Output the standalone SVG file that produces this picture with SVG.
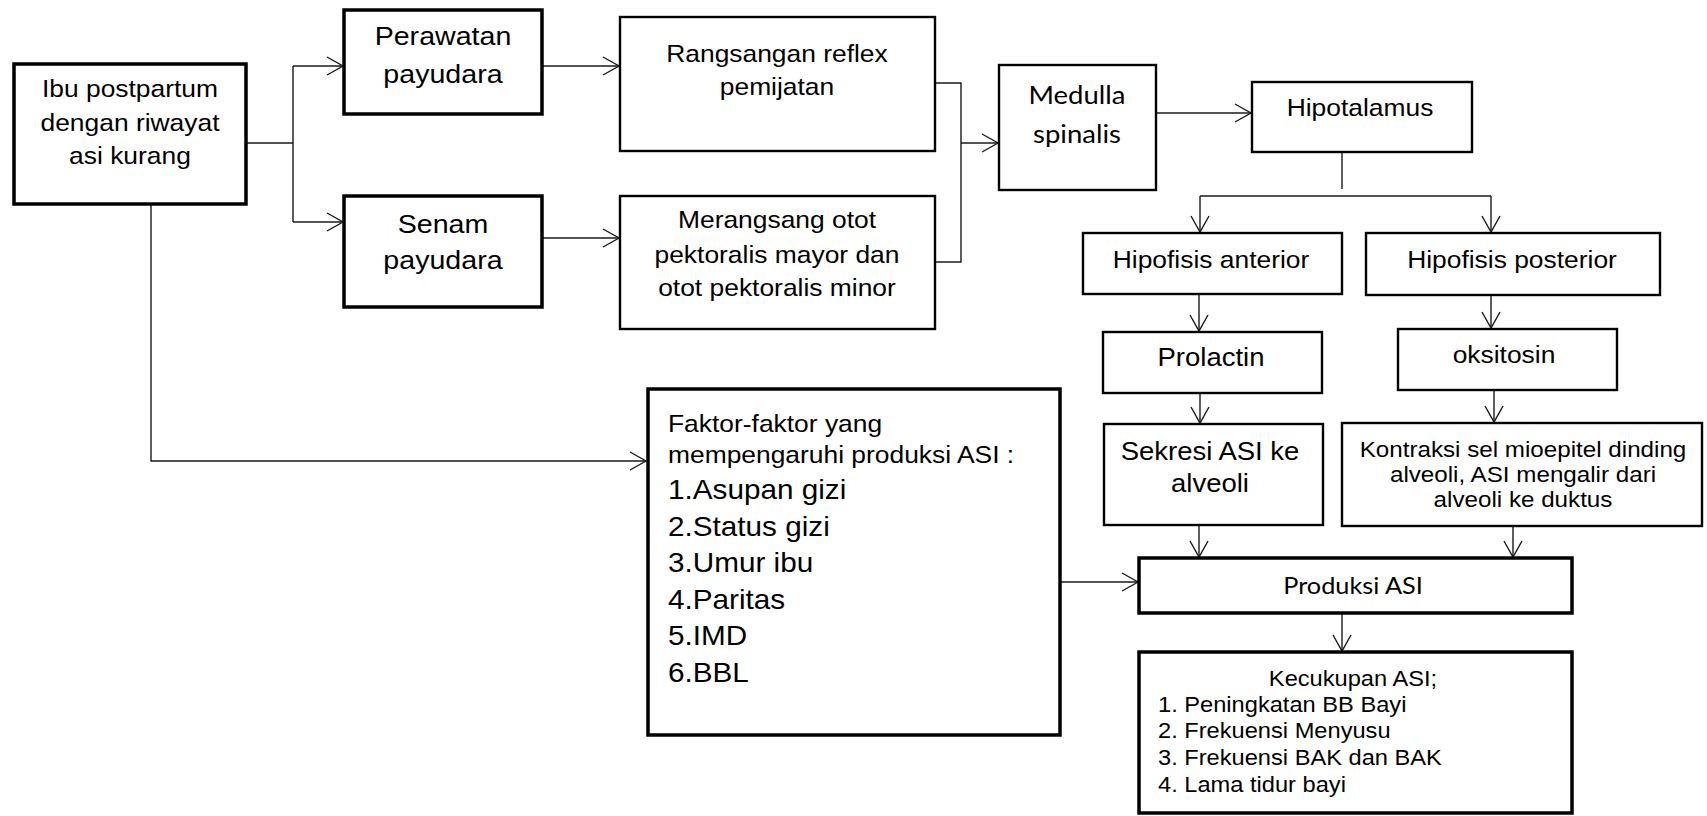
<svg xmlns="http://www.w3.org/2000/svg" width="1707" height="816" viewBox="0 0 1707 816">
<style>
  .bx{fill:#fff;stroke:#000;stroke-width:2.4}
  .bk{fill:#fff;stroke:#000;stroke-width:3.5}
  .ln{fill:none;stroke:#1a1a1a;stroke-width:1.4}
  .ar{fill:none;stroke:#1a1a1a;stroke-width:1.4;marker-end:url(#ah)}
  text{font-family:"Liberation Sans",Arial,sans-serif;fill:#000}
  .c{text-anchor:middle}
  .cal{font-family:Lato,"Liberation Sans",sans-serif}
  .sx{transform-box:fill-box;transform-origin:center;transform:scaleX(1.1)}
  .sl{transform-box:fill-box;transform-origin:left center;transform:scaleX(1.1)}
</style>
<defs>
  <marker id="ah" markerUnits="userSpaceOnUse" viewBox="0 0 20 20" markerWidth="20" markerHeight="20" refX="17" refY="10" orient="auto">
    <path d="M1,1 L17,10 L1,19" fill="none" stroke="#1a1a1a" stroke-width="1.4"/>
  </marker>
</defs>
<rect width="1707" height="816" fill="#fff"/>

<g id="connectors">
  <path class="ln" d="M246,143 H293 M293,66 V222"/>
  <path class="ar" d="M293,66 H343"/>
  <path class="ar" d="M293,222 H343"/>
  <path class="ar" d="M542,66 H619"/>
  <path class="ar" d="M542,238 H619"/>
  <path class="ln" d="M935,83 H961 V262 H935"/>
  <path class="ar" d="M961,143 H998"/>
  <path class="ar" d="M1156,113 H1251"/>
  <path class="ln" d="M1342,152 V189 M1200,196 H1491"/>
  <path class="ar" d="M1200,196 V232"/>
  <path class="ar" d="M1491,196 V232"/>
  <path class="ar" d="M1199,294 V331"/>
  <path class="ar" d="M1491,292 V328"/>
  <path class="ar" d="M1200,393 V423"/>
  <path class="ar" d="M1494,390 V422"/>
  <path class="ar" d="M1199,525 V557"/>
  <path class="ar" d="M1513,526 V557"/>
  <path class="ar" d="M1342,613 V651"/>
  <path class="ar" d="M1060,582 H1138"/>
  <path class="ln" d="M151,204 V461 H600"/>
  <path class="ar" d="M600,461 H646"/>
</g>

<g id="ibu">
  <rect class="bk" x="14" y="64" width="232" height="140"/>
  <text class="c sx" x="130" y="97" font-size="24">Ibu postpartum</text>
  <text class="c sx" x="130" y="131" font-size="24">dengan riwayat</text>
  <text class="c sx" x="130" y="164" font-size="24">asi kurang</text>
</g>
<g id="perawatan">
  <rect class="bk" x="344" y="10" width="198" height="104"/>
  <text class="c sx" x="443" y="45" font-size="26">Perawatan</text>
  <text class="c sx" x="443" y="83" font-size="26">payudara</text>
</g>
<g id="senam">
  <rect class="bk" x="344" y="196" width="198" height="111"/>
  <text class="c sx" x="443" y="233" font-size="26">Senam</text>
  <text class="c sx" x="443" y="269" font-size="26">payudara</text>
</g>
<g id="rangsangan">
  <rect class="bx" x="620" y="17" width="315" height="134"/>
  <text class="c sx" x="777" y="62" font-size="24">Rangsangan reflex</text>
  <text class="c sx" x="777" y="95" font-size="24">pemijatan</text>
</g>
<g id="merangsang">
  <rect class="bx" x="620" y="196" width="315" height="133"/>
  <text class="c sx" x="777" y="228" font-size="24">Merangsang otot</text>
  <text class="c sx" x="777" y="263" font-size="24">pektoralis mayor dan</text>
  <text class="c sx" x="777" y="296" font-size="24">otot pektoralis minor</text>
</g>
<g id="medulla">
  <rect class="bx" x="999" y="65" width="157" height="125"/>
  <text class="c sx cal" x="1077" y="104" font-size="25">Medulla</text>
  <text class="c sx cal" x="1077" y="143" font-size="25">spinalis</text>
</g>
<g id="hipotalamus">
  <rect class="bx" x="1252" y="82" width="220" height="70"/>
  <text class="c sx" x="1360" y="116" font-size="24">Hipotalamus</text>
</g>
<g id="hipofisis-anterior">
  <rect class="bx" x="1083" y="233" width="259" height="61"/>
  <text class="c sx" x="1211" y="268" font-size="24">Hipofisis anterior</text>
</g>
<g id="hipofisis-posterior">
  <rect class="bx" x="1366" y="233" width="294" height="62"/>
  <text class="c sx" x="1512" y="268" font-size="24">Hipofisis posterior</text>
</g>
<g id="prolactin">
  <rect class="bx" x="1103" y="332" width="219" height="61"/>
  <text class="c sx" x="1211" y="366" font-size="25">Prolactin</text>
</g>
<g id="oksitosin">
  <rect class="bx" x="1398" y="329" width="219" height="61"/>
  <text class="c sx" x="1504" y="363" font-size="24">oksitosin</text>
</g>
<g id="sekresi">
  <rect class="bx" x="1104" y="424" width="219" height="101"/>
  <text class="c sx" x="1210" y="460" font-size="25">Sekresi ASI ke</text>
  <text class="c sx" x="1210" y="492" font-size="25">alveoli</text>
</g>
<g id="kontraksi">
  <rect class="bx" x="1342" y="423" width="360" height="103"/>
  <text class="c sx" x="1523" y="457" font-size="22">Kontraksi sel mioepitel dinding</text>
  <text class="c sx" x="1523" y="482" font-size="22">alveoli, ASI mengalir dari</text>
  <text class="c sx" x="1523" y="507" font-size="22">alveoli ke duktus</text>
</g>
<g id="faktor">
  <rect class="bk" x="648" y="389" width="412" height="346"/>
  <text class="sl" x="668" y="432" font-size="24">Faktor-faktor yang</text>
  <text class="sl" x="668" y="463" font-size="24">mempengaruhi produksi ASI :</text>
  <text class="sl" x="668" y="499" font-size="27">1.Asupan gizi</text>
  <text class="sl" x="668" y="536" font-size="27">2.Status gizi</text>
  <text class="sl" x="668" y="572" font-size="27">3.Umur ibu</text>
  <text class="sl" x="668" y="609" font-size="27">4.Paritas</text>
  <text class="sl" x="668" y="645" font-size="27">5.IMD</text>
  <text class="sl" x="668" y="682" font-size="27">6.BBL</text>
</g>
<g id="produksi">
  <rect class="bk" x="1139" y="558" width="433" height="55"/>
  <text class="c sx cal" x="1353" y="594" font-size="23">Produksi ASI</text>
</g>
<g id="kecukupan">
  <rect class="bk" x="1139" y="652" width="433" height="161"/>
  <text class="c sx" x="1353" y="686" font-size="21.5">Kecukupan ASI;</text>
  <text class="sl" x="1158" y="712" font-size="21.5">1. Peningkatan BB Bayi</text>
  <text class="sl" x="1158" y="738" font-size="21.5">2. Frekuensi Menyusu</text>
  <text class="sl" x="1158" y="765" font-size="21.5">3. Frekuensi BAK dan BAK</text>
  <text class="sl" x="1158" y="792" font-size="21.5">4. Lama tidur bayi</text>
</g>
</svg>
